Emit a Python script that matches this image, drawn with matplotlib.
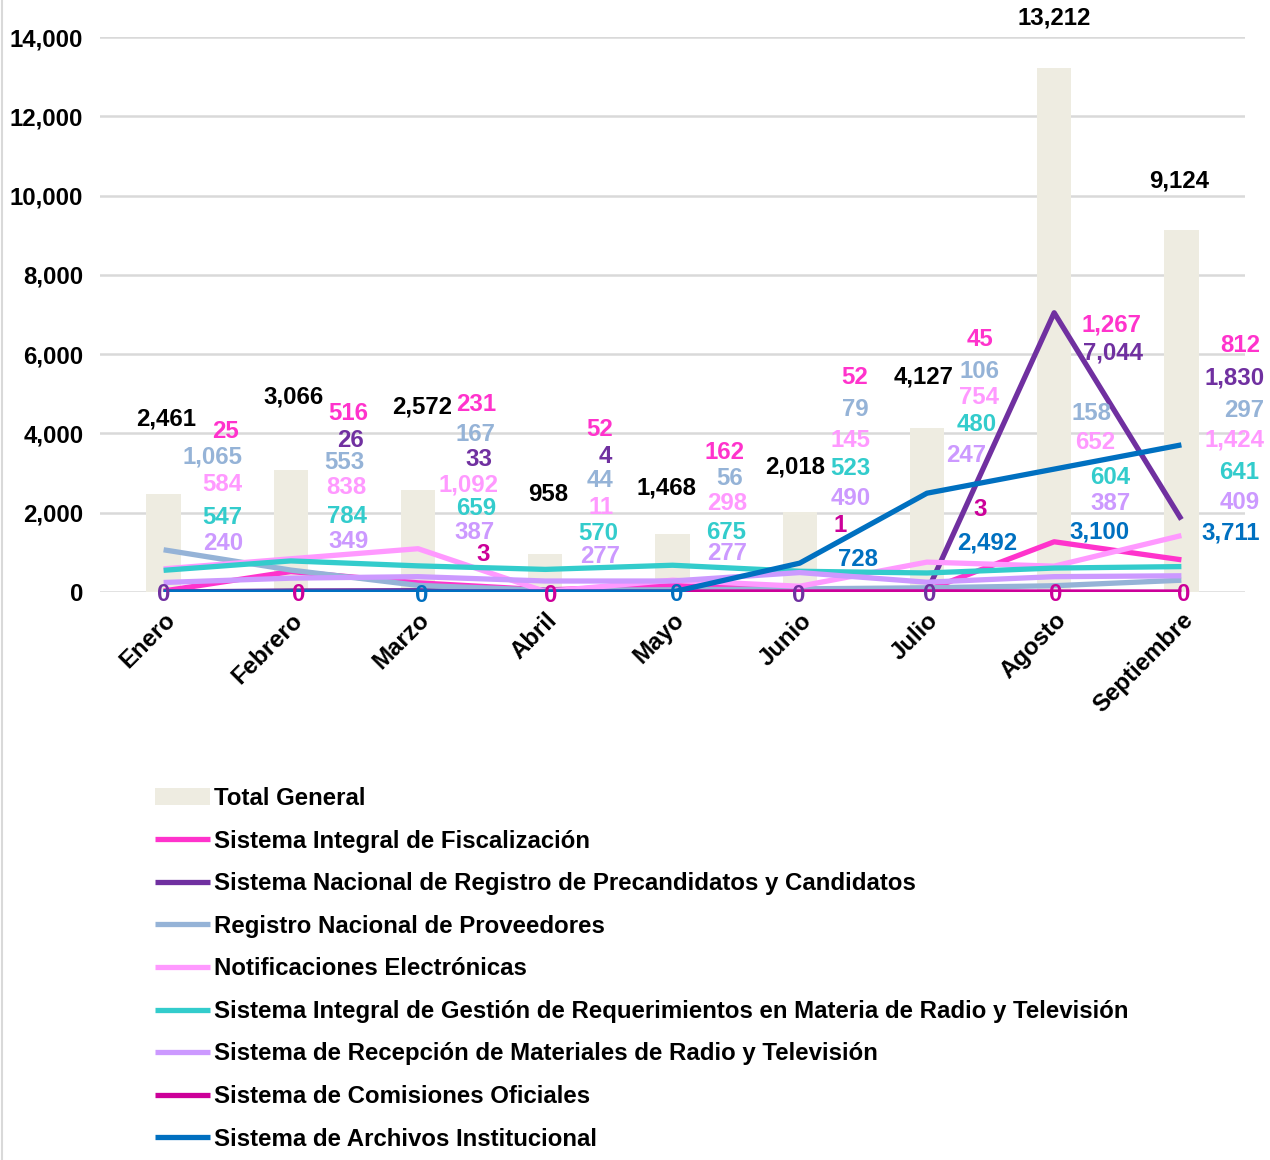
import matplotlib
matplotlib.use("Agg")
import matplotlib.pyplot as plt
from matplotlib.ticker import FuncFormatter, MultipleLocator
import numpy as np

plt.rcParams['font.family'] = ['Liberation Sans', 'DejaVu Sans']
plt.rcParams['font.weight'] = 'bold'

months = ["Enero", "Febrero", "Marzo", "Abril", "Mayo", "Junio", "Julio", "Agosto", "Septiembre"]

total_general = [2461, 3066, 2572, 958, 1468, 2018, 4127, 13212, 9124]
fiscalizacion = [25, 516, 231, 52, 162, 52, 45, 1267, 812]
precandidatos = [0, 26, 33, 4, 0, 0, 0, 7044, 1830]
proveedores = [1065, 553, 167, 44, 56, 79, 106, 158, 297]
notificaciones = [584, 838, 1092, 11, 298, 145, 754, 652, 1424]
gestion_rtv = [547, 784, 659, 570, 675, 523, 480, 604, 641]
recepcion_rtv = [240, 349, 387, 277, 277, 490, 247, 387, 409]
comisiones = [0, 0, 3, 0, 0, 1, 3, 0, 0]
archivos = [0, 0, 0, 0, 0, 728, 2492, 3100, 3711]

series_names = [
    "Sistema Integral de Fiscalización",
    "Sistema Nacional de Registro de Precandidatos y Candidatos",
    "Registro Nacional de Proveedores",
    "Notificaciones Electrónicas",
    "Sistema Integral de Gestión de Requerimientos en Materia de Radio y Televisión",
    "Sistema de Recepción de Materiales de Radio y Televisión",
    "Sistema de Comisiones Oficiales",
    "Sistema de Archivos Institucional",
]
series_values = [fiscalizacion, precandidatos, proveedores, notificaciones,
                 gestion_rtv, recepcion_rtv, comisiones, archivos]
series_colors = ["#FF33CC", "#7030A0", "#95B3D7", "#FF99FF",
                 "#33CCCC", "#CC99FF", "#CC0099", "#0070C0"]
bar_color = "#EEECE1"

# ---- data-label placement (x offset in categories, y in data units); None = hidden
Z = -60  # zero labels sit on the baseline
total_lbl = [(0.02, 4360), (0.02, 4920), (0.035, 4670), (0.02, 2450), (-0.05, 2620),
             (-0.04, 3150), (-0.03, 5420), (0.0, 14480), (-0.02, 10370)]
label_layout = [
    # Fiscalización
    [(0.49, 4040), (0.45, 4515), (0.46, 4720), (0.43, 4090), (0.41, 3530),
     (0.43, 5420), (0.42, 6380), (0.45, 6735), (0.46, 6230)],
    # Precandidatos
    [(0.0, Z), (0.47, 3810), (0.475, 3330), (0.47, 3430), None,
     (-0.01, Z - 40), (0.02, Z), (0.466, 6030), (0.42, 5400)],
    # Proveedores
    [(0.385, 3405), (0.42, 3255), (0.45, 3985), (0.434, 2825), (0.45, 2875),
     (0.44, 4615), (0.41, 5550), (0.29, 4515), (0.49, 4590)],
    # Notificaciones
    [(0.46, 2700), (0.44, 2625), (0.40, 2700), (0.44, 2120), (0.43, 2245),
     (0.40, 3810), (0.41, 4895), (0.32, 3760), (0.42, 3835)],
    # Gestión RTV
    [(0.46, 1890), (0.44, 1915), (0.46, 2095), (0.42, 1465), (0.42, 1490),
     (0.40, 3105), (0.39, 4215), (0.44, 2900), (0.456, 3025)],
    # Recepción RTV
    [(0.47, 1235), (0.45, 1285), (0.44, 1490), (0.43, 885), (0.43, 960),
     (0.40, 2370), (0.31, 3455), (0.44, 2245), (0.46, 2270)],
    # Comisiones
    [None, (0.06, Z), (0.51, 935), (0.04, Z - 40), None,
     (0.32, 1665), (0.42, 2070), (0.01, Z), (0.02, Z)],
    # Archivos
    [None, None, (0.03, Z - 40), None, (0.03, Z),
     (0.46, 830), (0.475, 1235), (0.36, 1515), (0.39, 1490)],
]

fig = plt.figure(figsize=(12.7, 11.6), dpi=100)
ax = fig.add_axes([100 / 1270, 1 - 592 / 1160, 1145 / 1270, 555 / 1160])

x = np.arange(len(months))
FS = 17.3

bars = ax.bar(x, total_general, width=0.27, color=bar_color, zorder=2, label="Total General")
line_handles = []
for name, vals, col in zip(series_names, series_values, series_colors):
    h, = ax.plot(x, vals, color=col, lw=3.8, zorder=3, label=name, solid_capstyle='butt')
    line_handles.append(h)

fmt = lambda v: f"{v:,}"
for i, (dx, yy) in enumerate(total_lbl):
    ax.text(x[i] + dx, yy, fmt(total_general[i]), ha='center', va='center',
            fontsize=FS, fontweight='bold', color='black', clip_on=False, zorder=5)
for vals, col, lay in zip(series_values, series_colors, label_layout):
    for i, pos in enumerate(lay):
        if pos is None:
            continue
        dx, yy = pos
        ax.text(x[i] + dx, yy, fmt(vals[i]), ha='center', va='center',
                fontsize=FS, fontweight='bold', color=col, clip_on=False, zorder=6)

ax.set_xlim(-0.5, len(months) - 0.5)
ax.set_ylim(0, 14000)
ax.yaxis.set_major_locator(MultipleLocator(2000))
ax.yaxis.set_major_formatter(FuncFormatter(lambda v, p: f"{int(v):,}"))
ax.grid(axis='y', color='#D9D9D9', lw=1.8, zorder=0)
ax.set_axisbelow(True)
for s in ax.spines.values():
    s.set_visible(False)
ax.tick_params(axis='both', length=0, labelsize=FS)
ax.tick_params(axis='y', pad=12)
ax.set_xticks(x)
ax.set_xticklabels(months, rotation=45, ha='right', va='top', rotation_mode='anchor',
                   fontweight='bold')
ax.tick_params(axis='x', pad=12)
for t in ax.get_yticklabels():
    t.set_fontweight('bold')

handles = [bars] + line_handles
labels = ["Total General"] + series_names
leg = fig.legend(handles, labels, loc='upper left', bbox_to_anchor=(155 / 1270, 1 - 787 / 1160),
                 frameon=False, fontsize=FS, handlelength=2.29, handletextpad=0.17,
                 labelspacing=0.815, borderpad=0, borderaxespad=0)
for t in leg.get_texts():
    t.set_fontweight('bold')

fig.add_artist(plt.Line2D([2 / 1270, 2 / 1270], [0, 1], color='#D9D9D9', lw=1.5))

fig.savefig("out.png", dpi=100)
